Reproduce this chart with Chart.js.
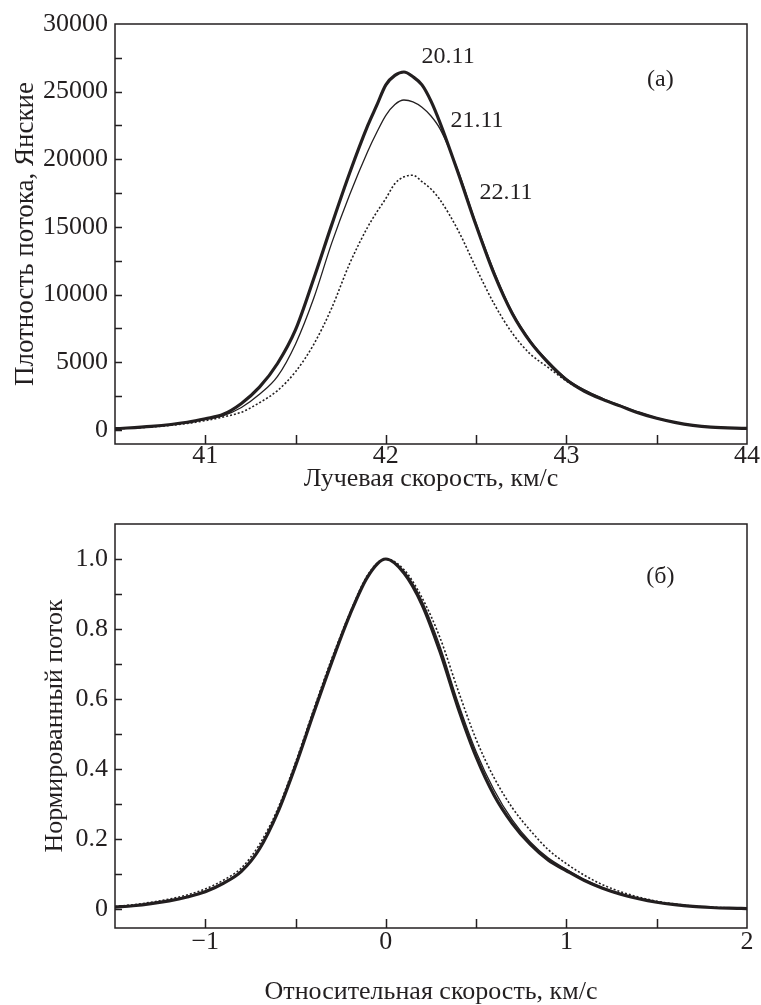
<!DOCTYPE html>
<html>
<head>
<meta charset="utf-8">
<script src="https://cdn.jsdelivr.net/npm/chart.js@4.4.0/dist/chart.umd.min.js"></script>
<style>
  html, body { margin: 0; padding: 0; background: #fff; }
  canvas { position: absolute; left: 0; }
  #fluxChart { top: 0; }
  #normChart { top: 500px; }
</style>
</head>
<body>
<canvas id="fluxChart" width="761" height="500"></canvas>
<canvas id="normChart" width="761" height="505"></canvas>
<script>
// (a) flux density vs radial velocity
const velocity = [40.5, 40.7, 40.9, 41.0, 41.1, 41.2, 41.3, 41.4, 41.5, 41.6, 41.7, 41.8, 41.9, 41.95, 42.0, 42.05, 42.1, 42.15, 42.2, 42.25, 42.3, 42.4, 42.5, 42.6, 42.7, 42.8, 42.9, 43.0, 43.1, 43.2, 43.3, 43.4, 43.5, 43.6, 43.7, 43.8, 44.0];
const flux2011 = [80, 250, 560, 820, 1150, 1950, 3150, 4900, 7400, 11150, 15150, 19000, 22500, 24000, 25500, 26200, 26450, 26100, 25500, 24300, 22700, 19000, 15100, 11500, 8600, 6500, 4950, 3700, 2850, 2250, 1750, 1250, 850, 550, 330, 200, 100];
const flux2111 = [80, 240, 530, 780, 1050, 1650, 2620, 3950, 6350, 9700, 13800, 17400, 20600, 22000, 23250, 24050, 24380, 24250, 23850, 23200, 22250, 19150, 15250, 11700, 8700, 6600, 5050, 3780, 2950, 2330, 1800, 1300, 880, 570, 340, 210, 100];
const flux2211 = [70, 210, 470, 680, 950, 1300, 2000, 2900, 4300, 6300, 9000, 12300, 15000, 16100, 17100, 18200, 18700, 18820, 18350, 17800, 17000, 14750, 11950, 9300, 7150, 5600, 4600, 3600, 2850, 2250, 1750, 1250, 850, 550, 330, 200, 100];
const velocityTicks = [40.5, 41, 41.5, 42, 42.5, 43, 43.5, 44];
const velocityLabels = [41, 42, 43, 44];
const fluxTicks = [0, 2500, 5000, 7500, 10000, 12500, 15000, 17500, 20000, 22500, 25000, 27500, 30000];
const fluxLabels = [0, 5000, 10000, 15000, 20000, 25000, 30000];

// (б) normalized flux vs relative velocity
const relVelocity = [-1.5, -1.4, -1.3, -1.2, -1.1, -1.0, -0.9, -0.8, -0.7, -0.6, -0.5, -0.4, -0.3, -0.2, -0.1, 0, 0.1, 0.2, 0.3, 0.4, 0.5, 0.6, 0.7, 0.8, 0.9, 1.0, 1.1, 1.2, 1.3, 1.4, 1.5, 1.6, 1.7, 1.8, 1.9, 2.0];
const norm2011 = [0.006, 0.010, 0.016, 0.024, 0.035, 0.050, 0.074, 0.108, 0.172, 0.275, 0.410, 0.560, 0.705, 0.840, 0.950, 1.000, 0.960, 0.870, 0.735, 0.575, 0.435, 0.325, 0.245, 0.185, 0.140, 0.110, 0.082, 0.060, 0.043, 0.030, 0.020, 0.013, 0.008, 0.005, 0.003, 0.002];
const norm2111 = [0.006, 0.010, 0.017, 0.025, 0.036, 0.052, 0.076, 0.110, 0.175, 0.278, 0.415, 0.565, 0.710, 0.843, 0.952, 1.000, 0.965, 0.880, 0.750, 0.590, 0.450, 0.340, 0.255, 0.192, 0.146, 0.114, 0.085, 0.062, 0.045, 0.031, 0.021, 0.014, 0.009, 0.005, 0.003, 0.002];
const norm2211 = [0.008, 0.013, 0.020, 0.029, 0.041, 0.058, 0.083, 0.118, 0.185, 0.285, 0.420, 0.570, 0.715, 0.845, 0.955, 1.000, 0.970, 0.890, 0.775, 0.625, 0.485, 0.375, 0.290, 0.225, 0.170, 0.130, 0.097, 0.070, 0.050, 0.035, 0.023, 0.015, 0.009, 0.006, 0.004, 0.002];
const relTicks = [-1.5, -1, -0.5, 0, 0.5, 1, 1.5, 2];
const relLabels = [-1, 0, 1, 2];
const normTicks = [0, 0.1, 0.2, 0.3, 0.4, 0.5, 0.6, 0.7, 0.8, 0.9, 1.0];
const normLabels = [0, 0.2, 0.4, 0.6, 0.8, 1.0];

const ink = '#231f20';
const serif = "'Liberation Serif', 'Times New Roman', serif";
const tickFont = { family: serif, size: 26 };

function toPoints(xs, ys) {
  return xs.map((x, i) => ({ x: x, y: ys[i] }));
}

function curve(xs, ys, width, dash) {
  return {
    data: toPoints(xs, ys),
    borderColor: ink,
    borderWidth: width,
    borderDash: dash,
    pointRadius: 0,
    fill: false,
    cubicInterpolationMode: 'monotone'
  };
}

// box around the plot + inward tick marks
const frameTicks = {
  id: 'frameTicks',
  afterDraw(chart) {
    const { ctx, chartArea: a, scales } = chart;
    ctx.save();
    ctx.strokeStyle = ink;
    ctx.lineWidth = 1.5;
    ctx.strokeRect(a.left, a.top, a.right - a.left, a.bottom - a.top);
    ctx.beginPath();
    scales.x.ticks.forEach(t => {
      const px = Math.round(scales.x.getPixelForValue(t.value)) + 0.5;
      if (px < a.left + 2 || px > a.right - 2) return;
      ctx.moveTo(px, a.bottom);
      ctx.lineTo(px, a.bottom - 9);
    });
    scales.y.ticks.forEach(t => {
      const py = Math.round(scales.y.getPixelForValue(t.value)) + 0.5;
      if (py < a.top + 2 || py > a.bottom - 2) return;
      ctx.moveTo(a.left, py);
      ctx.lineTo(a.left + 7, py);
    });
    ctx.stroke();
    ctx.restore();
  }
};

// text notes placed in data coordinates
const notes = {
  id: 'notes',
  afterDraw(chart, args, opts) {
    const { ctx, scales } = chart;
    ctx.save();
    ctx.fillStyle = ink;
    ctx.font = '24px ' + serif;
    ctx.textAlign = 'center';
    ctx.textBaseline = 'middle';
    (opts.items || []).forEach(n => {
      ctx.fillText(n.text, scales.x.getPixelForValue(n.x), scales.y.getPixelForValue(n.y));
    });
    ctx.restore();
  }
};

function axis(cfg) {
  return {
    type: 'linear',
    min: cfg.min,
    max: cfg.max,
    afterBuildTicks: s => { s.ticks = cfg.ticks.map(v => ({ value: v })); },
    afterFit: s => { if (s.isHorizontal()) s.height = cfg.size; else s.width = cfg.size; },
    grid: { display: false, drawTicks: false },
    border: { display: false },
    ticks: {
      font: tickFont,
      color: ink,
      padding: cfg.tickPad,
      autoSkip: false,
      maxRotation: 0,
      callback: v => cfg.labels.includes(v) ? cfg.fmt(v) : ''
    },
    title: {
      display: true,
      text: cfg.title,
      font: { family: serif, size: cfg.titleSize, lineHeight: 1 },
      color: ink,
      padding: cfg.titlePad
    }
  };
}

const minus = v => v < 0 ? '\u2212' + Math.abs(v) : String(v);

new Chart(document.getElementById('fluxChart'), {
  type: 'line',
  data: {
    datasets: [
      curve(velocity, flux2211, 1.6, [2, 2]),
      curve(velocity, flux2111, 1.3, []),
      curve(velocity, flux2011, 3.2, [])
    ]
  },
  options: {
    responsive: false,
    animation: false,
    layout: { padding: { top: 24, right: 14, left: 0, bottom: 0 } },
    plugins: {
      legend: { display: false },
      tooltip: { enabled: false },
      notes: {
        items: [
          { text: '20.11', x: 42.345, y: 27560 },
          { text: '21.11', x: 42.505, y: 22830 },
          { text: '22.11', x: 42.665, y: 17510 },
          { text: '(a)', x: 43.52, y: 25900 }
        ]
      }
    },
    scales: {
      x: axis({ min: 40.5, max: 44, ticks: velocityTicks, labels: velocityLabels, fmt: minus, size: 56,
                tickPad: -3, title: 'Лучевая скорость, км/с', titleSize: 26, titlePad: { top: 0, bottom: 8 } }),
      y: axis({ min: -1050, max: 30000, ticks: fluxTicks, labels: fluxLabels, fmt: v => String(v), size: 115,
                tickPad: 7, title: 'Плотность потока, Янские', titleSize: 27, titlePad: { top: 12, bottom: 0 } })
    }
  },
  plugins: [frameTicks, notes]
});

new Chart(document.getElementById('normChart'), {
  type: 'line',
  data: {
    datasets: [
      curve(relVelocity, norm2211, 1.6, [2, 2]),
      curve(relVelocity, norm2111, 1.3, []),
      curve(relVelocity, norm2011, 3.2, [])
    ]
  },
  options: {
    responsive: false,
    animation: false,
    layout: { padding: { top: 24, right: 14, left: 0, bottom: 0 } },
    plugins: {
      legend: { display: false },
      tooltip: { enabled: false },
      notes: {
        items: [
          { text: '(б)', x: 1.52, y: 0.95 }
        ]
      }
    },
    scales: {
      x: axis({ min: -1.5, max: 2, ticks: relTicks, labels: relLabels, fmt: minus, size: 77,
                tickPad: -1, title: 'Относительная скорость, км/с', titleSize: 26, titlePad: { top: 0, bottom: 0 } }),
      y: axis({ min: -0.0535, max: 1.1, ticks: normTicks, labels: normLabels, fmt: v => v === 0 ? '0' : v.toFixed(1), size: 115,
                tickPad: 7, title: 'Нормированный поток', titleSize: 26, titlePad: { top: 42, bottom: 0 } })
    }
  },
  plugins: [frameTicks, notes]
});
</script>
</body>
</html>
